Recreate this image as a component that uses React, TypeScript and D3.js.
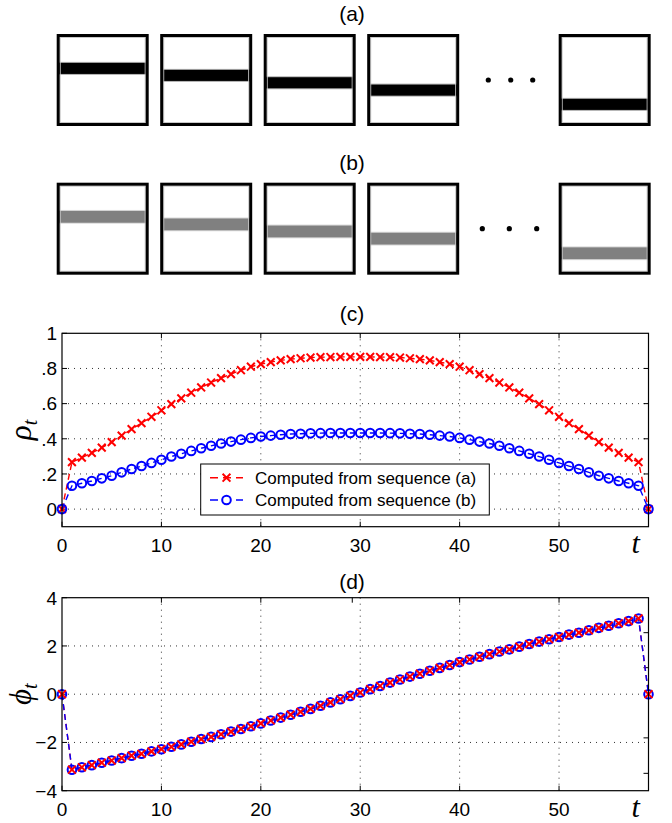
import React from "react";
import * as d3 from "d3";

// frame strip data: bar centre as a fraction of the box height
const frameSlots = [0, 1, 2, 3, 4.85];
const barPosA = [0.374, 0.45, 0.53, 0.61, 0.765];
const barPosB = [0.371, 0.453, 0.53, 0.608, 0.767];

// rho_t, t = 0..59
const rhoA = [
  0, 0.267, 0.293, 0.32, 0.35, 0.381, 0.418, 0.455, 0.489, 0.525,
  0.562, 0.597, 0.63, 0.662, 0.692, 0.72, 0.745, 0.768, 0.79, 0.81,
  0.825, 0.836, 0.846, 0.853, 0.858, 0.862, 0.864, 0.865, 0.866, 0.866,
  0.866, 0.866, 0.865, 0.864, 0.862, 0.858, 0.853, 0.846, 0.836, 0.825,
  0.81, 0.79, 0.768, 0.745, 0.72, 0.692, 0.662, 0.63, 0.597, 0.562,
  0.525, 0.489, 0.455, 0.418, 0.381, 0.35, 0.32, 0.293, 0.267, 0,
];
const rhoB = [
  0, 0.133, 0.147, 0.16, 0.175, 0.19, 0.209, 0.228, 0.245, 0.263,
  0.281, 0.299, 0.315, 0.331, 0.346, 0.36, 0.373, 0.384, 0.395, 0.405,
  0.413, 0.418, 0.423, 0.427, 0.429, 0.431, 0.432, 0.433, 0.433, 0.433,
  0.433, 0.433, 0.433, 0.432, 0.431, 0.429, 0.427, 0.423, 0.418, 0.413,
  0.405, 0.395, 0.384, 0.373, 0.36, 0.346, 0.331, 0.315, 0.299, 0.281,
  0.263, 0.245, 0.228, 0.209, 0.19, 0.175, 0.16, 0.147, 0.133, 0,
];

// phi_t, t = 0..59
const phiA = [
  0, -3.13, -3.03, -2.94, -2.84, -2.75, -2.65, -2.55, -2.47, -2.37,
  -2.28, -2.18, -2.08, -1.97, -1.86, -1.77, -1.66, -1.55, -1.44, -1.33,
  -1.21, -1.09, -0.97, -0.85, -0.73, -0.61, -0.48, -0.34, -0.21, -0.07,
  0.07, 0.21, 0.34, 0.48, 0.61, 0.73, 0.85, 0.97, 1.09, 1.21,
  1.33, 1.44, 1.55, 1.66, 1.77, 1.86, 1.97, 2.08, 2.18, 2.28,
  2.37, 2.47, 2.55, 2.65, 2.75, 2.84, 2.94, 3.03, 3.14, 0,
];
const phiB = [
  0, -3.13, -3.03, -2.94, -2.84, -2.75, -2.65, -2.55, -2.47, -2.37,
  -2.28, -2.18, -2.08, -1.97, -1.86, -1.77, -1.66, -1.55, -1.44, -1.33,
  -1.21, -1.09, -0.97, -0.85, -0.73, -0.61, -0.48, -0.34, -0.21, -0.07,
  0.07, 0.21, 0.34, 0.48, 0.61, 0.73, 0.85, 0.97, 1.09, 1.21,
  1.33, 1.44, 1.55, 1.66, 1.77, 1.86, 1.97, 2.08, 2.18, 2.28,
  2.37, 2.47, 2.55, 2.65, 2.75, 2.84, 2.94, 3.03, 3.14, 0,
];

const xTicks = [0, 10, 20, 30, 40, 50];
const rhoTicks = [0, 0.2, 0.4, 0.6, 0.8, 1];
const rhoTickLabels = ["0", ".2", ".4", ".6", ".8", "1"];
const phiTicks = [-4, -2, 0, 2, 4];
const phiTickLabels = ["\u22124", "\u22122", "0", "2", "4"];
const phiTopTicks = [10, 20, 29.2, 40, 50];
const phiRightTicks = [2.55, 1.1, -1.81, -3.28];
const legendLabels = ["Computed from sequence (a)", "Computed from sequence (b)"];

const W = 672;
const H = 823;
const sans = "'Liberation Sans', Arial, sans-serif";
const serif = "'Liberation Serif', 'DejaVu Serif', serif";

const RED = "#ff0000";
const BLUE = "#0000ff";
const xMark = "M-3.9,-3.9L3.9,3.9M-3.9,3.9L3.9,-3.9";

const xT = d3.scaleLinear().domain([0, 59]).range([62, 648.5]);
const yRho = d3.scaleLinear().domain([-0.1, 1]).range([526.7, 333.3]);
const yPhi = d3.scaleLinear().domain([-4, 4]).range([790.7, 597.7]);
const slotX = d3.scaleLinear().domain([0, 1]).range([56.7, 160.2]);

function FrameRow(props) {
  const { top, pos, color, edge, thick, label, labelY, dots } = props;
  const size = 92;
  const yIn = d3.scaleLinear().domain([0, 1]).range([top, top + size]);
  return (
    <g>
      <text x={352} y={labelY} fontFamily={sans} fontSize={21} textAnchor="middle">
        {label}
      </text>
      {frameSlots.map((s, i) => {
        const x0 = slotX(s);
        const c = yIn(pos[i]);
        const h = thick * size;
        return (
          <g key={i}>
            <rect x={x0} y={top} width={size} height={size} fill="white" />
            <rect x={x0 + 1.5} y={c - h / 2 - 1} width={size - 3} height={h + 2} fill={edge} />
            <rect x={x0 + 1.5} y={c - h / 2} width={size - 3} height={h} fill={color} />
            <rect x={x0 + 3.5} y={top + 3.5} width={size - 7} height={size - 7}
              fill="none" stroke="#c8c8c8" strokeWidth={1} />
            <rect x={x0 + 1.5} y={top + 1.5} width={size - 3} height={size - 3}
              fill="none" stroke="black" strokeWidth={3} />
          </g>
        );
      })}
      {dots.map((dx, i) => (
        <circle key={i} cx={dx} cy={yIn(0.5)} r={2.6} fill="black" />
      ))}
    </g>
  );
}

function SeriesLine(props) {
  const { values, y, color } = props;
  const line = d3
    .line()
    .x((d, i) => xT(i))
    .y((d) => y(d));
  return <path d={line(values)} fill="none" stroke={color} strokeWidth={1.4} strokeDasharray="6,4" />;
}

function SeriesMarks(props) {
  const { values, y, color, marker } = props;
  return (
    <g>
      {values.map((d, i) =>
        marker === "o" ? (
          <circle key={i} cx={xT(i)} cy={y(d)} r={4.3} fill="none" stroke={color} strokeWidth={2} />
        ) : (
          <path key={i} d={xMark} transform={`translate(${xT(i)},${y(d)})`}
            stroke={color} strokeWidth={2} fill="none" />
        )
      )}
    </g>
  );
}

function Panel(props) {
  const { y, ticks, tickLabels, title, titleGap, sym, topTicks, rightTicks, children } = props;
  const [x0, x1] = xT.range();
  const [yb, yt] = y.range();
  const grid = "#333";
  return (
    <g>
      <text x={352} y={yt - titleGap} fontFamily={sans} fontSize={21} textAnchor="middle">
        {title}
      </text>
      {/* grid */}
      {xTicks.slice(1).map((v) => (
        <line key={"gx" + v} x1={xT(v)} x2={xT(v)} y1={yt} y2={yb}
          stroke={grid} strokeWidth={1} strokeDasharray="1,5" />
      ))}
      {ticks.slice(0, -1).map((v, i) =>
        y(v) < yb - 1 ? (
          <line key={"gy" + i} x1={x0} x2={x1} y1={y(v)} y2={y(v)}
            stroke={grid} strokeWidth={1} strokeDasharray="1,5" />
        ) : null
      )}
      {/* ticks */}
      {xTicks.map((v) => (
        <line key={"tb" + v} x1={xT(v)} x2={xT(v)} y1={yb} y2={yb - 5} stroke="black" />
      ))}
      {topTicks.map((v) => (
        <line key={"tt" + v} x1={xT(v)} x2={xT(v)} y1={yt} y2={yt + 5} stroke="black" />
      ))}
      {ticks.map((v, i) => (
        <line key={"tl" + i} x1={x0} x2={x0 + 5} y1={y(v)} y2={y(v)} stroke="black" />
      ))}
      {rightTicks.map((v, i) => (
        <line key={"tr" + i} x1={x1} x2={x1 - 5} y1={y(v)} y2={y(v)} stroke="black" />
      ))}
      {children}
      <rect x={x0} y={yt} width={x1 - x0} height={yb - yt} fill="none" stroke="black" strokeWidth={1.2} />
      {/* tick labels */}
      {ticks.map((v, i) => (
        <text key={"ly" + i} x={x0 - 5} y={y(v)} dy="0.36em" textAnchor="end"
          fontFamily={sans} fontSize={19}>
          {tickLabels[i]}
        </text>
      ))}
      {xTicks.map((v) => (
        <text key={"lx" + v} x={xT(v)} y={yb + 25} textAnchor="middle" fontFamily={sans} fontSize={19}>
          {v}
        </text>
      ))}
      <text x={xT(57.7)} y={yb + 26} textAnchor="middle" fontFamily={serif} fontStyle="italic" fontSize={30}>
        t
      </text>
      <text transform={`translate(31,${(yt + yb) / 2}) rotate(-90)`} textAnchor="middle"
        fontFamily={serif} fontStyle="italic" fontSize={31}>
        {sym}
        <tspan fontSize={20} dy={6}>t</tspan>
      </text>
    </g>
  );
}

function Legend() {
  const lx = 200.7, ly = 464, lw = 288.6, lh = 51;
  const rows = [
    { color: RED, marker: "x", cy: ly + 13.7 },
    { color: BLUE, marker: "o", cy: ly + 36 },
  ];
  return (
    <g>
      <rect x={lx} y={ly} width={lw} height={lh} fill="white" stroke="black" strokeWidth={1} />
      {rows.map((r, i) => (
        <g key={i}>
          <line x1={210} x2={243} y1={r.cy} y2={r.cy} stroke={r.color} strokeWidth={1.5} strokeDasharray="8,5" />
          {r.marker === "o" ? (
            <circle cx={226.5} cy={r.cy} r={4.3} fill="white" stroke={r.color} strokeWidth={2} />
          ) : (
            <path d={xMark} transform={`translate(226.5,${r.cy})`} stroke={r.color} strokeWidth={2} />
          )}
          <text x={255} y={r.cy} dy="0.36em" fontFamily={sans} fontSize={17}>
            {legendLabels[i]}
          </text>
        </g>
      ))}
    </g>
  );
}

export default function App() {
  return (
    <svg width={W} height={H} style={{ position: "absolute", left: 0, top: 0, background: "white" }}>
      <rect width={W} height={H} fill="white" />
      <FrameRow top={34} pos={barPosA} color="#000" edge="#b0b0b0" thick={0.12}
        label="(a)" labelY={21} dots={[488.3, 510.7, 532.7]} />
      <FrameRow top={182.7} pos={barPosB} color="#808080" edge="#d8d8d8" thick={0.128}
        label="(b)" labelY={170} dots={[482.3, 509.3, 536.7]} />

      <Panel y={yRho} ticks={rhoTicks} tickLabels={rhoTickLabels} title="(c)" titleGap={12}
        sym={"\u03c1"} topTicks={xTicks.slice(1)} rightTicks={rhoTicks.slice(0, -1)}>
        <SeriesLine values={rhoA} y={yRho} color={RED} />
        <SeriesMarks values={rhoA} y={yRho} color={RED} marker="x" />
        <SeriesLine values={rhoB} y={yRho} color={BLUE} />
        <SeriesMarks values={rhoB} y={yRho} color={BLUE} marker="o" />
        <Legend />
      </Panel>

      <Panel y={yPhi} ticks={phiTicks} tickLabels={phiTickLabels} title="(d)" titleGap={9}
        sym={"\u03d5"} topTicks={phiTopTicks} rightTicks={phiRightTicks}>
        <SeriesLine values={phiA} y={yPhi} color={RED} />
        <SeriesLine values={phiB} y={yPhi} color={BLUE} />
        <SeriesMarks values={phiB} y={yPhi} color={BLUE} marker="o" />
        <SeriesMarks values={phiA} y={yPhi} color={RED} marker="x" />
      </Panel>
    </svg>
  );
}
